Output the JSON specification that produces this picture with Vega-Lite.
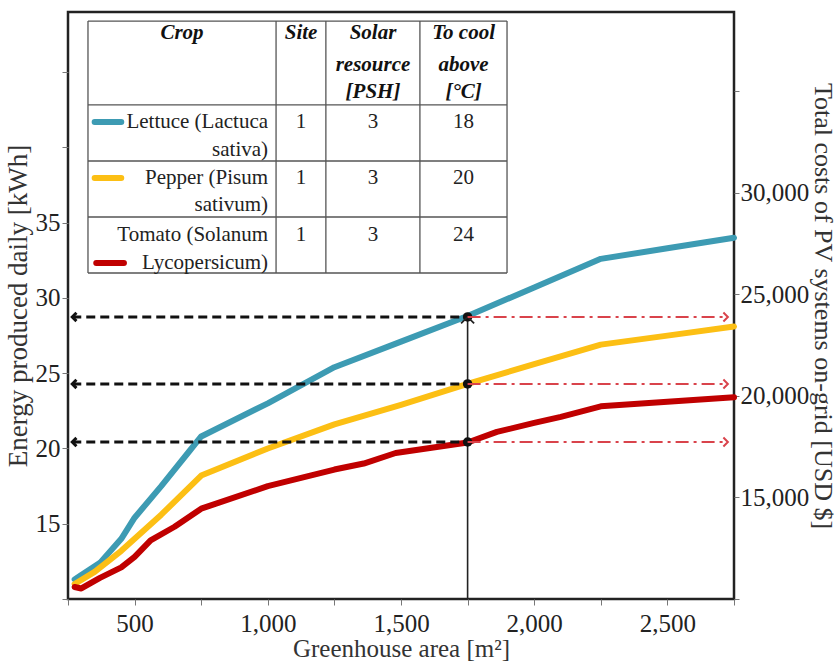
{
  "$schema": "https://vega.github.io/schema/vega-lite/v6.json",
  "width": 666,
  "height": 587,
  "autosize": {"type": "none"},
  "padding": {"left": 68, "top": 12, "right": 104, "bottom": 65},
  "background": "white",
  "config": {
    "view": {"stroke": "#222", "strokeWidth": 2.5},
    "font": "Liberation Serif",
    "axis": {
      "grid": false,
      "domain": false,
      "labelFont": "Liberation Serif",
      "titleFont": "Liberation Serif",
      "labelFontSize": 25,
      "titleFontSize": 25,
      "titleFontWeight": "normal",
      "labelColor": "#222",
      "titleColor": "#333",
      "tickColor": "#777",
      "labelFlush": false,
      "labelOverlap": false
    }
  },
  "datasets": {
    "curves": [
      {"crop": "Lettuce", "area": 275, "kwh": 11.3},
      {"crop": "Lettuce", "area": 300, "kwh": 11.6},
      {"crop": "Lettuce", "area": 370, "kwh": 12.4},
      {"crop": "Lettuce", "area": 450, "kwh": 14.0},
      {"crop": "Lettuce", "area": 500, "kwh": 15.4},
      {"crop": "Lettuce", "area": 600, "kwh": 17.5},
      {"crop": "Lettuce", "area": 700, "kwh": 19.7},
      {"crop": "Lettuce", "area": 750, "kwh": 20.8},
      {"crop": "Lettuce", "area": 1000, "kwh": 23.0},
      {"crop": "Lettuce", "area": 1250, "kwh": 25.4},
      {"crop": "Lettuce", "area": 1500, "kwh": 27.1},
      {"crop": "Lettuce", "area": 1750, "kwh": 28.8},
      {"crop": "Lettuce", "area": 2000, "kwh": 30.7},
      {"crop": "Lettuce", "area": 2250, "kwh": 32.6},
      {"crop": "Lettuce", "area": 2500, "kwh": 33.3},
      {"crop": "Lettuce", "area": 2750, "kwh": 34.0},
      {"crop": "Pepper", "area": 275, "kwh": 11.0},
      {"crop": "Pepper", "area": 350, "kwh": 11.8},
      {"crop": "Pepper", "area": 450, "kwh": 13.2},
      {"crop": "Pepper", "area": 500, "kwh": 14.0},
      {"crop": "Pepper", "area": 600, "kwh": 15.6},
      {"crop": "Pepper", "area": 750, "kwh": 18.2},
      {"crop": "Pepper", "area": 1000, "kwh": 20.0},
      {"crop": "Pepper", "area": 1250, "kwh": 21.6},
      {"crop": "Pepper", "area": 1500, "kwh": 22.9},
      {"crop": "Pepper", "area": 1750, "kwh": 24.3},
      {"crop": "Pepper", "area": 2000, "kwh": 25.6},
      {"crop": "Pepper", "area": 2250, "kwh": 26.9},
      {"crop": "Pepper", "area": 2500, "kwh": 27.5},
      {"crop": "Pepper", "area": 2750, "kwh": 28.1},
      {"crop": "Tomato", "area": 275, "kwh": 10.8},
      {"crop": "Tomato", "area": 300, "kwh": 10.7},
      {"crop": "Tomato", "area": 370, "kwh": 11.4},
      {"crop": "Tomato", "area": 450, "kwh": 12.1},
      {"crop": "Tomato", "area": 500, "kwh": 12.8},
      {"crop": "Tomato", "area": 560, "kwh": 13.9},
      {"crop": "Tomato", "area": 650, "kwh": 14.8},
      {"crop": "Tomato", "area": 750, "kwh": 16.0},
      {"crop": "Tomato", "area": 1000, "kwh": 17.5},
      {"crop": "Tomato", "area": 1250, "kwh": 18.6},
      {"crop": "Tomato", "area": 1360, "kwh": 19.0},
      {"crop": "Tomato", "area": 1480, "kwh": 19.7},
      {"crop": "Tomato", "area": 1750, "kwh": 20.4},
      {"crop": "Tomato", "area": 1860, "kwh": 21.1},
      {"crop": "Tomato", "area": 2000, "kwh": 21.7},
      {"crop": "Tomato", "area": 2100, "kwh": 22.1},
      {"crop": "Tomato", "area": 2250, "kwh": 22.8},
      {"crop": "Tomato", "area": 2500, "kwh": 23.1},
      {"crop": "Tomato", "area": 2750, "kwh": 23.4}
    ],
    "guides": [
      {"kwh": 28.74, "usd": 23884, "left": 266, "mid": 1750, "right": 2727},
      {"kwh": 24.29, "usd": 20585, "left": 266, "mid": 1750, "right": 2727},
      {"kwh": 20.43, "usd": 17730, "left": 266, "mid": 1750, "right": 2727}
    ],
    "vertical": [
      {"area": 1750, "bottom": 10, "top": 28.74}
    ],
    "tableLines": [
      {"x": 325, "x2": 1898, "y": 48.4, "y2": 48.4},
      {"x": 325, "x2": 1898, "y": 42.83, "y2": 42.83},
      {"x": 325, "x2": 1898, "y": 39.1, "y2": 39.1},
      {"x": 325, "x2": 1898, "y": 35.38, "y2": 35.38},
      {"x": 325, "x2": 1898, "y": 31.66, "y2": 31.66},
      {"x": 325, "x2": 325, "y": 31.66, "y2": 48.4},
      {"x": 1031, "x2": 1031, "y": 31.66, "y2": 48.4},
      {"x": 1218, "x2": 1218, "y": 31.66, "y2": 48.4},
      {"x": 1571, "x2": 1571, "y": 31.66, "y2": 48.4},
      {"x": 1898, "x2": 1898, "y": 31.66, "y2": 48.4}
    ],
    "header": [
      {"t": "Crop", "x": 678, "y": 47.61},
      {"t": "Site", "x": 1125, "y": 47.61},
      {"t": "Solar", "x": 1395, "y": 47.61},
      {"t": "resource", "x": 1395, "y": 45.48},
      {"t": "[PSH]", "x": 1395, "y": 43.69},
      {"t": "To cool", "x": 1735, "y": 47.61},
      {"t": "above", "x": 1735, "y": 45.48},
      {"t": "[°C]", "x": 1735, "y": 43.69}
    ],
    "names": [
      {"t": "Lettuce (Lactuca", "x": 1001, "y": 41.69},
      {"t": "sativa)", "x": 1001, "y": 39.83},
      {"t": "Pepper (Pisum", "x": 1001, "y": 37.97},
      {"t": "sativum)", "x": 1001, "y": 36.18},
      {"t": "Tomato (Solanum", "x": 1001, "y": 34.19},
      {"t": "Lycopersicum)", "x": 1001, "y": 32.33}
    ],
    "numbers": [
      {"t": "1", "x": 1125, "y": 41.69},
      {"t": "3", "x": 1395, "y": 41.69},
      {"t": "18", "x": 1735, "y": 41.69},
      {"t": "1", "x": 1125, "y": 37.97},
      {"t": "3", "x": 1395, "y": 37.97},
      {"t": "20", "x": 1735, "y": 37.97},
      {"t": "1", "x": 1125, "y": 34.19},
      {"t": "3", "x": 1395, "y": 34.19},
      {"t": "24", "x": 1735, "y": 34.19}
    ],
    "swatches": [
      {"crop": "Lettuce", "x": 350, "x2": 450, "y": 41.69},
      {"crop": "Pepper", "x": 350, "x2": 450, "y": 37.97},
      {"crop": "Tomato", "x": 356, "x2": 460, "y": 32.33}
    ]
  },
  "layer": [
    {
      "layer": [
        {
          "data": {"name": "curves"},
          "mark": {"type": "line", "strokeWidth": 6, "strokeCap": "round", "strokeJoin": "round"},
          "encoding": {
            "x": {
              "field": "area", "type": "quantitative",
              "scale": {"domain": [250, 2750], "nice": false, "zero": false},
              "axis": {
                "title": "Greenhouse area [m²]",
                "values": [250, 500, 750, 1000, 1250, 1500, 1750, 2000, 2250, 2500, 2750],
                "labelExpr": "datum.value % 500 == 0 ? format(datum.value, ',') : ''",
                "tickSize": 6,
                "labelPadding": 6,
                "titlePadding": 0
              }
            },
            "y": {
              "field": "kwh", "type": "quantitative",
              "scale": {"domain": [10, 49], "nice": false, "zero": false},
              "axis": {
                "title": "Energy produced daily [kWh]",
                "orient": "left",
                "values": [10, 15, 20, 25, 30, 35, 40, 45],
                "labelExpr": "datum.value >= 15 && datum.value <= 35 ? datum.value : ''",
                "tickSize": 6,
                "labelPadding": 2,
                "titleFontSize": 27,
                "titlePadding": 3
              }
            },
            "color": {
              "field": "crop", "type": "nominal",
              "scale": {"domain": ["Lettuce", "Pepper", "Tomato"], "range": ["#3d9bb3", "#fcbf14", "#c00000"]},
              "legend": null
            }
          }
        },
        {
          "data": {"name": "guides"},
          "mark": {"type": "rule", "color": "#111", "strokeWidth": 3, "strokeDash": [9, 5]},
          "encoding": {
            "x": {"field": "left", "type": "quantitative", "title": "Greenhouse area [m²]"},
            "x2": {"field": "mid"},
            "y": {"field": "kwh", "type": "quantitative", "title": "Energy produced daily [kWh]"}
          }
        },
        {
          "data": {"name": "guides"},
          "mark": {"type": "point", "shape": "M1,-1L0,0L1,1", "filled": false, "stroke": "#111", "strokeWidth": 3, "size": 70, "opacity": 1},
          "encoding": {
            "x": {"field": "left", "type": "quantitative", "title": "Greenhouse area [m²]"},
            "y": {"field": "kwh", "type": "quantitative", "title": "Energy produced daily [kWh]"}
          }
        },
        {
          "data": {"name": "vertical"},
          "mark": {"type": "rule", "color": "#222", "strokeWidth": 1.6},
          "encoding": {
            "x": {"field": "area", "type": "quantitative", "title": "Greenhouse area [m²]"},
            "y": {"field": "bottom", "type": "quantitative", "title": "Energy produced daily [kWh]"},
            "y2": {"field": "top"}
          }
        },
        {
          "data": {"name": "guides"},
          "mark": {"type": "point", "shape": "circle", "filled": true, "color": "#111", "size": 90, "opacity": 1},
          "encoding": {
            "x": {"field": "mid", "type": "quantitative", "title": "Greenhouse area [m²]"},
            "y": {"field": "kwh", "type": "quantitative", "title": "Energy produced daily [kWh]"}
          }
        },
        {
          "data": {"name": "vertical"},
          "mark": {"type": "point", "shape": "M-1,1L0,0L1,1", "filled": false, "stroke": "#222", "strokeWidth": 1.8, "size": 170, "opacity": 1},
          "encoding": {
            "x": {"field": "area", "type": "quantitative", "title": "Greenhouse area [m²]"},
            "y": {"field": "top", "type": "quantitative", "title": "Energy produced daily [kWh]"}
          }
        },
        {
          "data": {"name": "tableLines"},
          "mark": {"type": "rule", "color": "#555", "strokeWidth": 1.3},
          "encoding": {
            "x": {"field": "x", "type": "quantitative", "title": "Greenhouse area [m²]"},
            "x2": {"field": "x2"},
            "y": {"field": "y", "type": "quantitative", "title": "Energy produced daily [kWh]"},
            "y2": {"field": "y2"}
          }
        },
        {
          "data": {"name": "header"},
          "mark": {"type": "text", "font": "Liberation Serif", "fontSize": 21, "fontWeight": "bold", "fontStyle": "italic", "align": "center", "baseline": "middle", "color": "#111"},
          "encoding": {
            "x": {"field": "x", "type": "quantitative", "title": "Greenhouse area [m²]"},
            "y": {"field": "y", "type": "quantitative", "title": "Energy produced daily [kWh]"},
            "text": {"field": "t"}
          }
        },
        {
          "data": {"name": "names"},
          "mark": {"type": "text", "font": "Liberation Serif", "fontSize": 21, "align": "right", "baseline": "middle", "color": "#222"},
          "encoding": {
            "x": {"field": "x", "type": "quantitative", "title": "Greenhouse area [m²]"},
            "y": {"field": "y", "type": "quantitative", "title": "Energy produced daily [kWh]"},
            "text": {"field": "t"}
          }
        },
        {
          "data": {"name": "numbers"},
          "mark": {"type": "text", "font": "Liberation Serif", "fontSize": 21, "align": "center", "baseline": "middle", "color": "#222"},
          "encoding": {
            "x": {"field": "x", "type": "quantitative", "title": "Greenhouse area [m²]"},
            "y": {"field": "y", "type": "quantitative", "title": "Energy produced daily [kWh]"},
            "text": {"field": "t"}
          }
        },
        {
          "data": {"name": "swatches"},
          "mark": {"type": "rule", "strokeWidth": 6, "strokeCap": "round"},
          "encoding": {
            "x": {"field": "x", "type": "quantitative", "title": "Greenhouse area [m²]"},
            "x2": {"field": "x2"},
            "y": {"field": "y", "type": "quantitative", "title": "Energy produced daily [kWh]"},
            "color": {"field": "crop", "type": "nominal", "legend": null}
          }
        }
      ]
    },
    {
      "layer": [
        {
          "data": {"name": "guides"},
          "mark": {"type": "rule", "color": "#d9434b", "strokeWidth": 2, "strokeDash": [13, 5, 3, 5]},
          "encoding": {
            "x": {"field": "mid", "type": "quantitative", "title": "Greenhouse area [m²]"},
            "x2": {"field": "right"},
            "y": {
              "field": "usd", "type": "quantitative",
              "scale": {"domain": [10000, 38900], "nice": false, "zero": false},
              "axis": {
                "title": "Total costs of PV systems on-grid [USD $]",
                "orient": "right",
                "values": [10000, 15000, 20000, 25000, 30000, 35000],
                "labelExpr": "datum.value >= 15000 && datum.value <= 30000 ? format(datum.value, ',') : ''",
                "tickSize": 5,
                "labelPadding": 1,
                "titleFontSize": 26,
                "titlePadding": 1
              }
            }
          }
        },
        {
          "data": {"name": "guides"},
          "mark": {"type": "point", "shape": "M-1,-1L0,0L-1,1", "filled": false, "stroke": "#d9434b", "strokeWidth": 2, "size": 80, "opacity": 1},
          "encoding": {
            "x": {"field": "right", "type": "quantitative", "title": "Greenhouse area [m²]"},
            "y": {"field": "usd", "type": "quantitative", "title": "Total costs of PV systems on-grid [USD $]"}
          }
        }
      ]
    }
  ],
  "resolve": {"scale": {"y": "independent"}}
}
